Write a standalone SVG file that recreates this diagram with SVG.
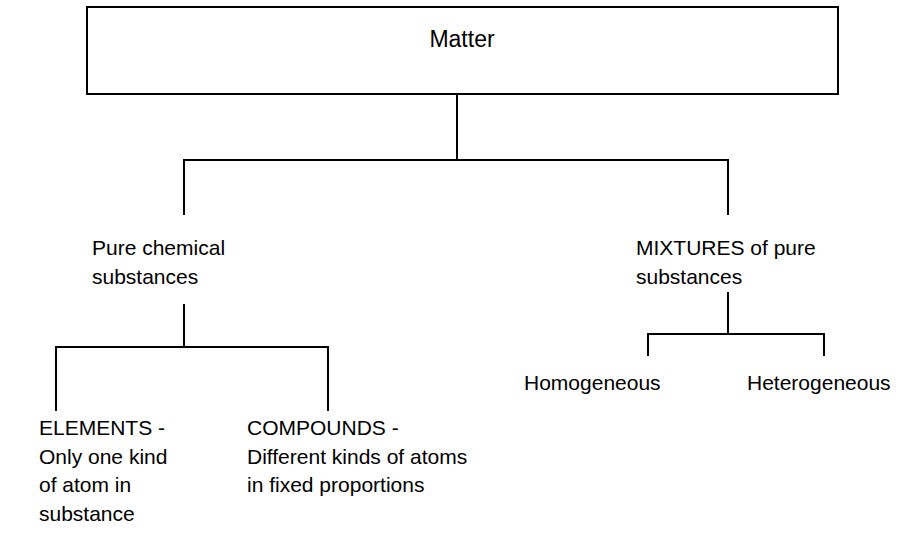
<svg xmlns="http://www.w3.org/2000/svg" width="898" height="557" viewBox="0 0 898 557">
<style>
text{font-family:"Liberation Sans",Arial,sans-serif;font-size:21px;fill:#000}
.ln{stroke:#000;stroke-width:2;fill:none}
</style>
<rect width="898" height="557" fill="#fff"/>
<g id="matter">
<rect class="ln" x="87" y="7" width="751" height="87"/>
<text x="462" y="47" text-anchor="middle" style="font-size:23px">Matter</text>
</g>
<g id="pure">
<text x="92" y="255">Pure chemical</text>
<text x="92" y="284">substances</text>
</g>
<g id="mixtures">
<text x="636" y="255">MIXTURES of pure</text>
<text x="636" y="284">substances</text>
</g>
<g id="elements">
<text x="39" y="435">ELEMENTS -</text>
<text x="39" y="464">Only one kind</text>
<text x="39" y="492">of atom in</text>
<text x="39" y="521">substance</text>
</g>
<g id="compounds">
<text x="247" y="435">COMPOUNDS -</text>
<text x="247" y="464">Different kinds of atoms</text>
<text x="247" y="492">in fixed proportions</text>
</g>
<g id="homogeneous"><text x="524" y="390">Homogeneous</text></g>
<g id="heterogeneous"><text x="747" y="390">Heterogeneous</text></g>
<g id="connectors">
<path class="ln" d="M457 94V160M184 215V160H728V215"/>
<path class="ln" d="M184 304V347M56 411V347H328V411"/>
<path class="ln" d="M728 292V334M648 356V334H824V356"/>
</g>
</svg>
